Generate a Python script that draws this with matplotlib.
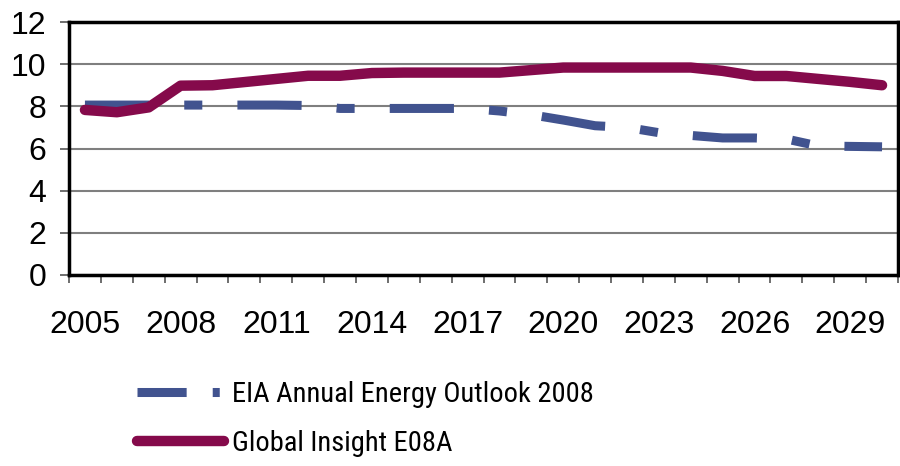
import matplotlib
matplotlib.use("Agg")
import matplotlib.pyplot as plt
from matplotlib.lines import Line2D
import numpy as np

years = list(range(2005, 2031))
eia = [8.06, 8.06, 8.06, 8.06, 8.06, 8.06, 8.06, 8.04, 7.9, 7.9, 7.9, 7.9, 7.9, 7.78,
       7.6, 7.35, 7.08, 7.0, 6.75, 6.62, 6.5, 6.5, 6.45, 6.12, 6.1, 6.08]
gi = [7.83, 7.72, 7.95, 8.98, 9.0, 9.15, 9.3, 9.45, 9.45, 9.58, 9.6, 9.6, 9.6, 9.6,
      9.72, 9.84, 9.84, 9.84, 9.84, 9.84, 9.68, 9.44, 9.44, 9.3, 9.16, 9.0]
labels = ["EIA Annual Energy Outlook 2008", "Global Insight E08A"]
yticks = [0, 2, 4, 6, 8, 10, 12]

BLUE = "#41538F"
PURPLE = "#850A4B"

W, H = 900, 466
fig = plt.figure(figsize=(W / 100, H / 100), dpi=100)
ax = fig.add_axes([69 / W, 1 - 275 / H, (898 - 69) / W, (275 - 22) / H])

x = np.arange(len(years))
lw_b = 6.5
ax.plot(x, eia, color=BLUE, lw=lw_b, solid_capstyle="butt", dash_capstyle="butt",
        dashes=(64 / 9, 35 / 9, 18 / 9, 35 / 9), zorder=3)
ax.plot(x, gi, color=PURPLE, lw=7.5, solid_capstyle="round", solid_joinstyle="round", zorder=4)

ax.set_xlim(-0.5, len(years) - 0.5)
ax.set_ylim(0, 12)
ax.set_yticks(yticks)
ax.set_yticklabels([str(v) for v in yticks], family="Liberation Sans", fontsize=23)
ax.yaxis.grid(True, color="#7f7f7f", lw=1.5)
ax.set_axisbelow(True)

ax.set_xticks(x[::3])
ax.set_xticklabels([str(y) for y in years[::3]], family="Liberation Sans", fontsize=23)
ax.set_xticks(np.arange(-0.5, len(years) + 0.5, 1), minor=True)
ax.tick_params(axis="x", which="major", length=0, pad=25)
ax.tick_params(axis="x", which="minor", length=6, width=1.2, color="#555555", direction="out")
ax.tick_params(axis="y", length=6.5, width=1.2, color="#555555", direction="out", pad=10)

for s in ax.spines.values():
    s.set_linewidth(2.5)
    s.set_color("black")

h1 = Line2D([], [], color=BLUE, lw=lw_b, dash_capstyle="butt", dashes=(49 / 9, 26 / 9, 7 / 9, 26 / 9))
h2 = Line2D([], [], color=PURPLE, lw=7.5, solid_capstyle="round")
fig.legend([h1, h2], labels, loc="upper left", bbox_to_anchor=(137 / W, 1 - 381 / H),
           frameon=False, handlelength=3.05, handletextpad=0.3, labelspacing=0.78,
           prop={"family": ["Roboto Condensed", "Liberation Sans"], "size": 20.5},
           borderaxespad=0, borderpad=0)

fig.savefig("out.png", dpi=100)
